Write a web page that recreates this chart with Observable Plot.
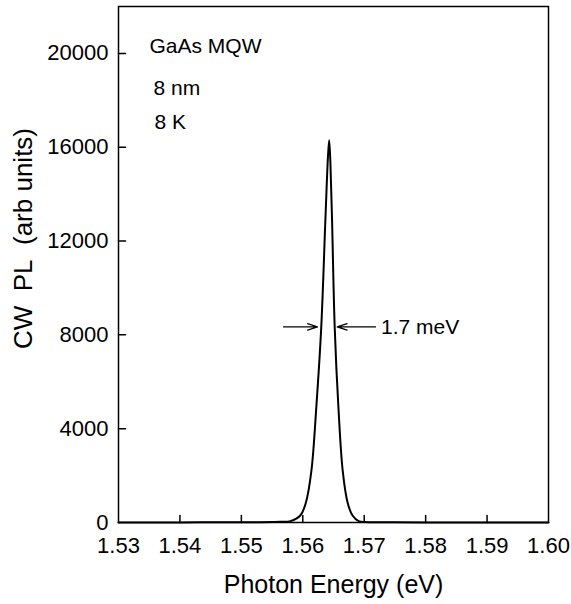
<!DOCTYPE html>
<html>
<head>
<meta charset="utf-8">
<script src="https://cdn.jsdelivr.net/npm/d3@7"></script>
<script src="https://cdn.jsdelivr.net/npm/@observablehq/plot@0.6"></script>
<style>
  body { margin: 0; background: #fff; }
  #chart svg { display: block; }
</style>
</head>
<body>
<div id="chart"></div>
<script>
// Photon energy (eV) and CW PL intensity (arb units)
const energy = [1.530, 1.540, 1.550, 1.5530, 1.5550, 1.5564, 1.5580, 1.5596, 1.5605, 1.5614, 1.5622, 1.5630, 1.5637, 1.5641, 1.5643, 1.5645, 1.56475, 1.5652, 1.5658, 1.5665, 1.5673, 1.5681, 1.5691, 1.5702, 1.5720, 1.5750, 1.580, 1.590, 1.600];
const pl     = [0,     5,     8,     12,     20,     30,     60,     298,    843,    2200,   4911,   8298,   13043,  15600,  16300,  15300,  13043,   8298,   4911,   2200,   843,    298,    60,     20,     12,     8,     5,     0,     0];

const xTicks = [1.53, 1.54, 1.55, 1.56, 1.57, 1.58, 1.59, 1.60];
const xTickLabels = ["1.53", "1.54", "1.55", "1.56", "1.57", "1.58", "1.59", "1.60"];
const yTicks = [0, 4000, 8000, 12000, 16000, 20000];

const xLabel = "Photon Energy (eV)";
const yLabel = "CW\u00a0\u00a0PL\u00a0\u00a0(arb units)";

const notes = ["GaAs MQW", "8 nm", "8 K"];
const noteDy = [40, 82, 116];
const noteDx = [31, 35, 36];

// FWHM arrows and label
const fwhmLevel = 8340;
const fwhmArrows = [
  {x1: 1.55686, x2: 1.56240},
  {x1: 1.57184, x2: 1.56560}
];
const fwhmText = "1.7 meV";
const fwhmTextX = 1.57273;

const font = "'Liberation Sans', Arial, Helvetica, sans-serif";
const tickShapeUp = {draw(ctx, l) { ctx.moveTo(0, 0); ctx.lineTo(0, -l); }};

const data = energy.map((e, i) => ({e, v: pl[i]}));

const chart = Plot.plot({
  width: 571,
  height: 604,
  marginLeft: 118,
  marginRight: 23,
  marginTop: 6,
  marginBottom: 82,
  style: {fontFamily: font, background: "#fff", color: "#000"},
  x: {domain: [1.53, 1.60]},
  y: {domain: [0, 22000]},
  marks: [
    Plot.frame({stroke: "#000", strokeWidth: 1.5}),
    Plot.axisX({ticks: xTicks, tickFormat: (d, i) => xTickLabels[i], tickSize: 0, tickPadding: 15, fontSize: 22, label: null}),
    Plot.axisY({ticks: yTicks, tickFormat: d => String(d), tickSize: 0, tickPadding: 10, fontSize: 22, label: null}),
    // inward ticks
    Plot.vector(xTicks.slice(1, -1), {x: d => d, y: 0, length: 7, rotate: 0, anchor: "start", shape: tickShapeUp, stroke: "#000", strokeWidth: 1.5}),
    Plot.vector(yTicks.slice(1), {x: 1.53, y: d => d, length: 7, rotate: 90, anchor: "start", shape: tickShapeUp, stroke: "#000", strokeWidth: 1.5}),
    Plot.line(data, {x: "e", y: "v", stroke: "#000", strokeWidth: 2, curve: "catmull-rom"}),
    Plot.arrow(fwhmArrows, {x1: "x1", x2: "x2", y1: fwhmLevel, y2: fwhmLevel, stroke: "#000", strokeWidth: 1.2, headLength: 13, headAngle: 36}),
    Plot.text([fwhmText], {x: fwhmTextX, y: fwhmLevel, textAnchor: "start", fontSize: 21, fill: "#000"}),
    ...notes.map((t, i) => Plot.text([t], {frameAnchor: "top-left", dx: noteDx[i], dy: noteDy[i], textAnchor: "start", lineAnchor: "middle", fontSize: 21, fill: "#000"})),
    Plot.text([xLabel], {frameAnchor: "bottom", dy: 70, fontSize: 25, fill: "#000"}),
    Plot.text([yLabel], {frameAnchor: "left", dx: -95, dy: -26, rotate: -90, textAnchor: "middle", lineAnchor: "middle", fontSize: 26, fill: "#000"})
  ]
});
document.getElementById("chart").appendChild(chart);
</script>
</body>
</html>
